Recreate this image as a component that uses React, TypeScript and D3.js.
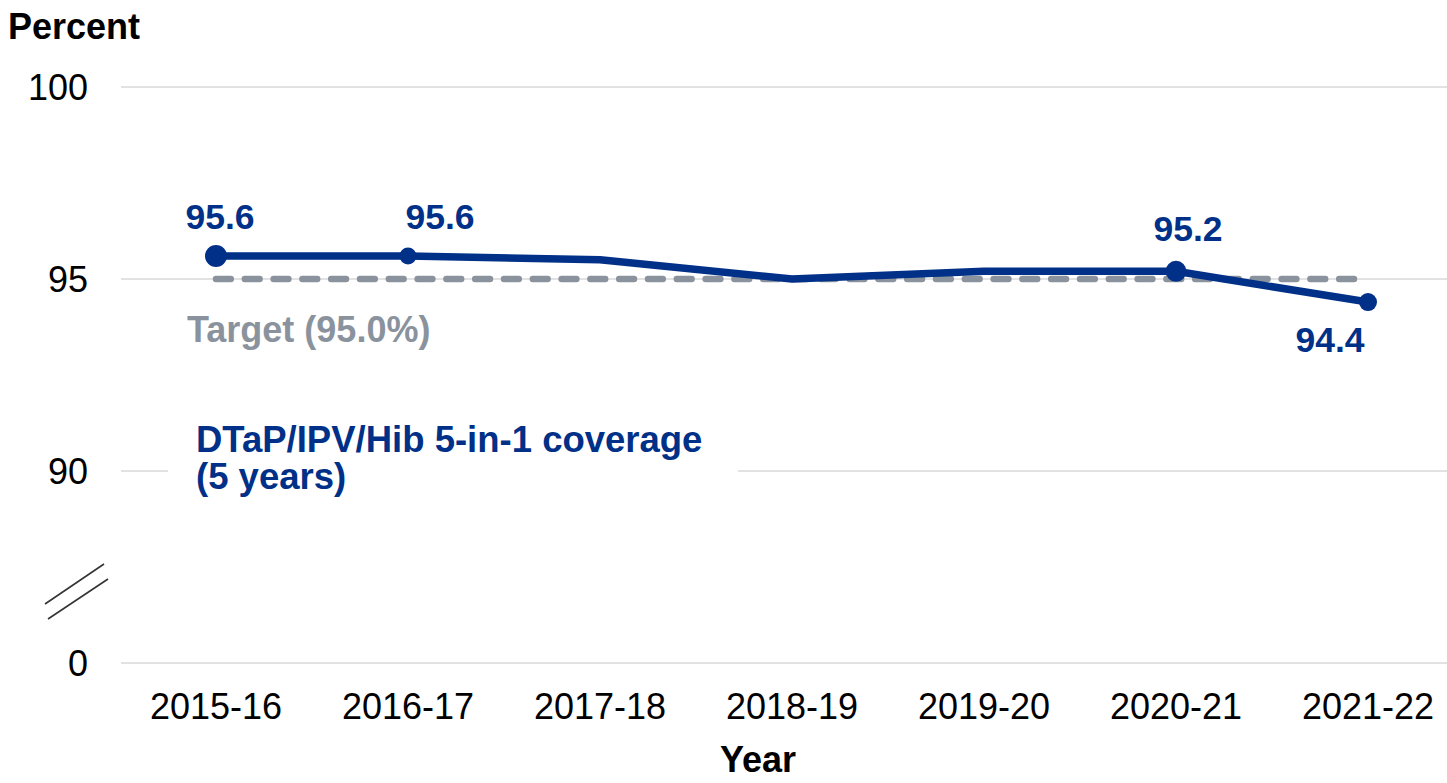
import React from "react";
import * as d3 from "d3";

// Childhood immunisation: DTaP/IPV/Hib 5-in-1 coverage at 5 years, England
const years = ["2015-16", "2016-17", "2017-18", "2018-19", "2019-20", "2020-21", "2021-22"];
const coverage = [95.6, 95.6, 95.5, 95.0, 95.2, 95.2, 94.4];
const targetValue = 95.0;

// y axis is broken: the bottom tick stands for 0, the rest of the axis spans 85–100
const yTickValues = [85, 90, 95, 100];
const yTickLabels = ["0", "90", "95", "100"];

// which points carry a marker and a value label
const labelledIndices = [0, 1, 5, 6];

const W = 1447;
const H = 783;
const BLUE = "#003087";
const GREY = "#8a939d";
const GRID = "#d9d9d9";
const FONT = "'Liberation Sans', Arial, Helvetica, sans-serif";

// marker size and label placement per labelled point
const markerStyle: Record<number, { r: number; dx: number; dy: number }> = {
  0: { r: 11, dx: 4, dy: -27 },
  1: { r: 8.5, dx: 32, dy: -27 },
  5: { r: 10.5, dx: 12, dy: -30 },
  6: { r: 9, dx: -38, dy: 50 },
};

export default function App() {
  const x = d3.scaleBand<string>().domain(years).range([120, 1464]);
  const cx = (d: string) => (x(d) as number) + x.bandwidth() / 2;
  const y = d3.scaleLinear().domain([85, 100]).range([663, 87]);

  const line = d3
    .line<number>()
    .x((_, i) => cx(years[i]))
    .y((v) => y(v));

  const gridX1 = 121;
  const gridX2 = W;

  return (
    <svg
      width={W}
      height={H}
      viewBox={`0 0 ${W} ${H}`}
      style={{ position: "absolute", left: 0, top: 0, background: "#fff" }}
      fontFamily={FONT}
    >
      {/* horizontal gridlines */}
      {yTickValues.map((v) => (
        <line key={v} x1={gridX1} x2={gridX2} y1={y(v)} y2={y(v)} stroke={GRID} strokeWidth={1.3} />
      ))}

      {/* y tick labels */}
      {yTickValues.map((v, i) => (
        <text key={v} x={88} y={y(v)} dy="0.36em" textAnchor="end" fontSize={36} fill="#000">
          {yTickLabels[i]}
        </text>
      ))}

      {/* axis break symbol */}
      <g stroke="#333" strokeWidth={1.6}>
        <line x1={45} y1={604} x2={104} y2={564} />
        <line x1={48} y1={619} x2={108} y2={579} />
      </g>

      {/* y axis title */}
      <text x={8} y={39} fontSize={36} fontWeight="bold" fill="#000">
        Percent
      </text>

      {/* x tick labels */}
      {years.map((d) => (
        <text key={d} x={cx(d)} y={719} textAnchor="middle" fontSize={36} fill="#000">
          {d}
        </text>
      ))}
      <text x={758} y={772} textAnchor="middle" fontSize={36} fontWeight="bold" fill="#000">
        Year
      </text>

      {/* target line */}
      <line
        x1={cx(years[0])}
        x2={cx(years[years.length - 1]) - 8}
        y1={y(targetValue)}
        y2={y(targetValue)}
        stroke={GREY}
        strokeWidth={6.5}
        strokeLinecap="round"
        strokeDasharray="14.8 14"
      />
      <text x={187} y={342} fontSize={36} fontWeight="bold" fill={GREY}>
        Target ({targetValue.toFixed(1)}%)
      </text>

      {/* coverage series */}
      <path d={line(coverage) ?? ""} fill="none" stroke={BLUE} strokeWidth={7.5} strokeLinejoin="round" />
      {labelledIndices.map((i) => {
        const s = markerStyle[i];
        return (
          <g key={i}>
            <circle cx={cx(years[i])} cy={y(coverage[i])} r={s.r} fill={BLUE} />
            <text
              x={cx(years[i]) + s.dx}
              y={y(coverage[i]) + s.dy}
              textAnchor="middle"
              fontSize={35.5}
              fontWeight="bold"
              fill={BLUE}
            >
              {coverage[i].toFixed(1)}
            </text>
          </g>
        );
      })}

      {/* series label */}
      <rect x={168} y={412} width={570} height={90} fill="#fff" />
      <text x={196} y={452} fontSize={36.5} fontWeight="bold" fill={BLUE}>
        <tspan x={196}>DTaP/IPV/Hib 5-in-1 coverage</tspan>
        <tspan x={196} dy={37}>
          (5 years)
        </tspan>
      </text>
    </svg>
  );
}
